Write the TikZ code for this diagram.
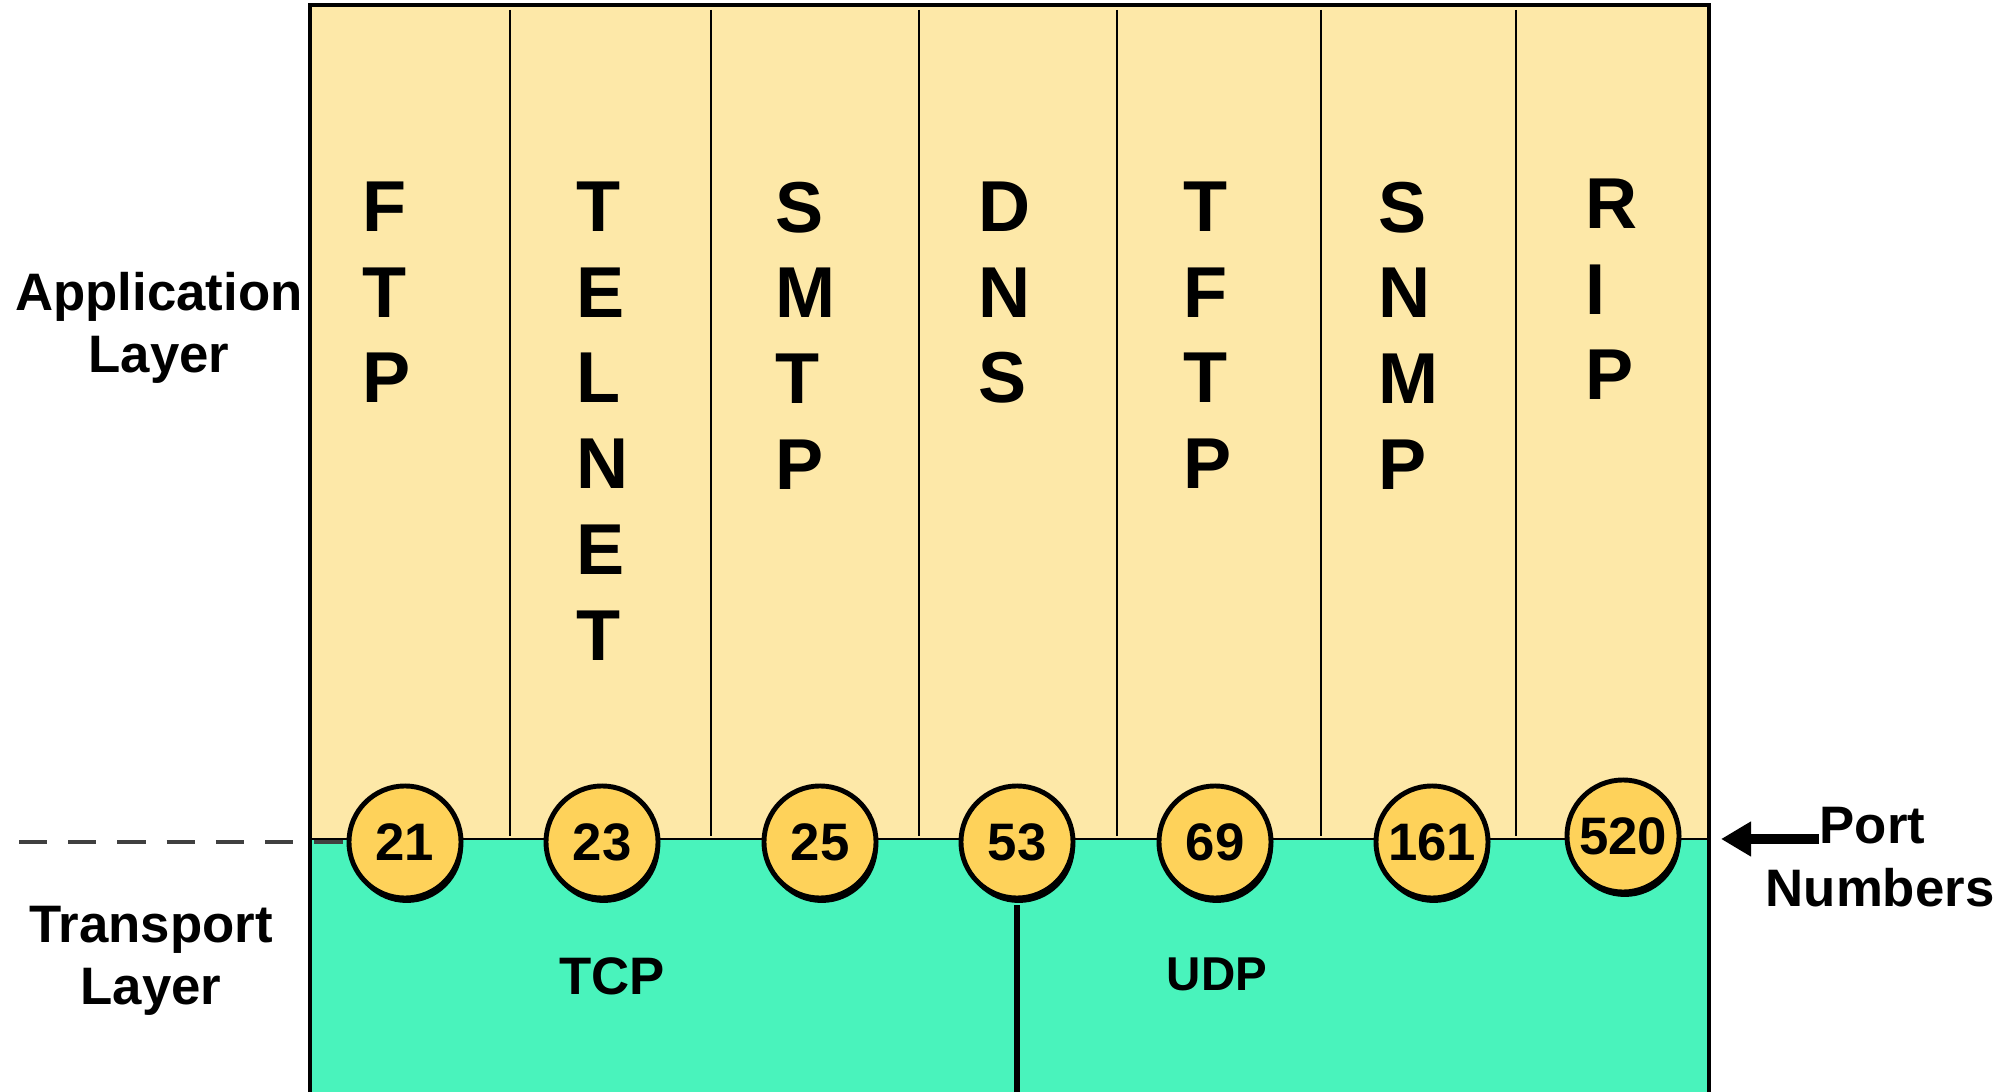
\documentclass[tikz,border=0pt]{standalone}
\usepackage{fontspec}
\setmainfont{Liberation Sans}
\usetikzlibrary{arrows.meta,shadows}

\definecolor{appfill}{RGB}{253,232,168}
\definecolor{tpfill}{RGB}{73,243,188}
\definecolor{portfill}{RGB}{254,210,90}

\begin{document}
\begin{tikzpicture}[x=0.01cm, y=-0.01cm,
        proto/.style={font=\fontsize{20.5}{24.4}\selectfont\bfseries, align=left, inner sep=0pt, anchor=north west},
        layer/.style={font=\fontsize{15}{17.5}\selectfont\bfseries, align=center, inner sep=0pt, anchor=north},
        label/.style={font=\fontsize{15}{17.5}\selectfont\bfseries, inner sep=0pt},
        portnum/.style={circle, draw, line width=1.4pt, fill=portfill, minimum size=1.12cm, inner sep=0pt,
            font=\fontsize{15}{18}\selectfont\bfseries,
            drop shadow={shadow xshift=0.5pt, shadow yshift=-1.4pt, fill=black, opacity=1}},
        sep/.style={line width=0.6pt}]
        \useasboundingbox (0,0) rectangle (2009,1092);

        % Layers
        \fill[appfill] (310,5) rectangle (1709,839);
        \fill[tpfill] (310,839) rectangle (1709,1092);
        \draw[line width=0.8pt] (310,839) -- (1709,839);
        \foreach \x in {510,711,919,1117,1321,1516}
            \draw[sep] (\x,10) -- (\x,836);
        \draw[line width=1.1pt] (310,1092) -- (310,5) -- (1709,5) -- (1709,1092);

        % Protocols
        \node[proto] (ftp) at (362,181) {F\\T\\P};
        \node[proto] (telnet) at (576,181) {T\\E\\L\\N\\E\\T};
        \node[proto] (smtp) at (775,181) {S\\M\\T\\P};
        \node[proto] (dns) at (978,181) {D\\N\\S};
        \node[proto] (tftp) at (1183,181) {T\\F\\T\\P};
        \node[proto] (snmp) at (1378,181) {S\\N\\M\\P};
        \node[proto] (rip) at (1585,178) {R\\I\\P};

        \node[label] (tcp) at (612,976) {TCP};
        \node[label, font=\fontsize{13.5}{16}\selectfont\bfseries] (udp) at (1217,974) {UDP};

        % Port numbers
        \node[portnum] (p21) at (405,842) {21};
        \node[portnum] (p23) at (602,842) {23};
        \node[portnum] (p25) at (820,842) {25};
        \node[portnum] (p53) at (1017,842) {53};
        \node[portnum] (p69) at (1215,842) {69};
        \node[portnum] (p161) at (1432,842) {161};
        \node[portnum] (p520) at (1623,836) {520};

        \coordinate (split) at (1017,1092);
        \draw[line width=1.5pt] ([yshift=-1.4pt]p53.south) -- (split);

        \coordinate (dashstart) at (19,842);
        \draw[black!75, line width=1.1pt, dash pattern=on 8pt off 6pt] (dashstart) -- (p21.west);

        % Side labels
        \node[layer] (applbl) at (159,272) {Application\\Layer};
        \node[layer] (tplbl) at (151,906) {Transport\\Layer};
        \node[label, anchor=north west] (port) at (1819,807) {Port};
        \node[label, anchor=north west] (numbers) at (1765,868) {Numbers};

        \coordinate (tip) at (1721,839);
        \draw[-{Triangle[length=0.3cm, width=0.33cm]}, line width=3pt] (port.west |- tip) -- (tip);
    \end{tikzpicture}
\end{document}
